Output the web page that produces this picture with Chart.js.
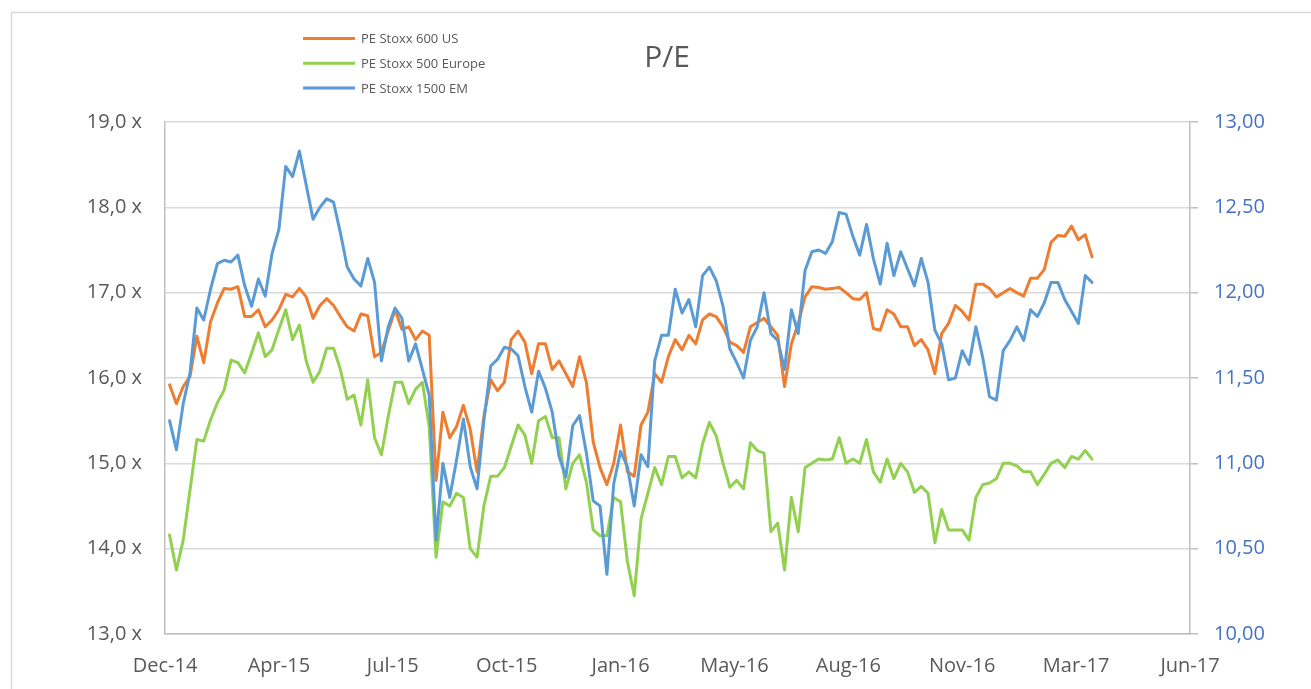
<!DOCTYPE html>
<html>
<head>
<meta charset="utf-8">
<script src="https://cdn.jsdelivr.net/npm/chart.js@4.4.1/dist/chart.umd.min.js"></script>
<style>
  html, body { margin: 0; padding: 0; background: #fff; }
  #wrap { width: 1311px; height: 689px; position: relative; }
</style>
</head>
<body>
<div id="wrap"><canvas id="pe"></canvas></div>
<script>
// -- data (x = days after the Dec-14 axis origin) --
const days = [
    4, 10, 16, 22, 28, 34, 40, 46, 52, 58,
    64, 70, 76, 82, 88, 94, 100, 106, 112, 118,
    124, 130, 136, 142, 148, 154, 160, 166, 172, 178,
    184, 190, 196, 202, 208, 214, 220, 226, 232, 238,
    244, 250, 256, 262, 268, 274, 280, 286, 292, 298,
    304, 310, 316, 322, 328, 334, 340, 346, 352, 358,
    364, 370, 376, 382, 388, 394, 400, 406, 412, 418,
    424, 430, 436, 442, 448, 454, 460, 466, 472, 478,
    484, 490, 496, 502, 508, 514, 520, 526, 532, 538,
    544, 550, 556, 562, 568, 574, 580, 586, 592, 598,
    604, 610, 616, 622, 628, 634, 640, 646, 652, 658,
    664, 670, 676, 682, 688, 694, 700, 706, 712, 718,
    724, 730, 736, 742, 748, 754, 760, 766, 772, 778,
    784, 790, 796, 802, 808, 814
];

const peUS = [
    15.92, 15.70, 15.90, 16.02, 16.49, 16.18, 16.66, 16.88, 17.05, 17.04,
    17.07, 16.72, 16.72, 16.80, 16.60, 16.68, 16.80, 16.98, 16.95, 17.05,
    16.95, 16.70, 16.85, 16.93, 16.85, 16.72, 16.60, 16.55, 16.75, 16.73,
    16.25, 16.30, 16.55, 16.80, 16.57, 16.60, 16.45, 16.55, 16.50, 14.80,
    15.60, 15.30, 15.43, 15.68, 15.40, 14.90, 15.55, 15.98, 15.85, 15.95,
    16.45, 16.55, 16.42, 16.05, 16.40, 16.40, 16.10, 16.20, 16.05, 15.90,
    16.25, 15.95, 15.25, 14.95, 14.75, 15.00, 15.45, 14.90, 14.85, 15.45,
    15.60, 16.05, 15.95, 16.25, 16.45, 16.33, 16.50, 16.40, 16.68, 16.75,
    16.72, 16.60, 16.42, 16.38, 16.30, 16.60, 16.65, 16.70, 16.60, 16.50,
    15.90, 16.40, 16.64, 16.95, 17.07, 17.06, 17.04, 17.05, 17.06, 17.00,
    16.93, 16.92, 17.00, 16.58, 16.56, 16.80, 16.75, 16.60, 16.60, 16.38,
    16.45, 16.33, 16.05, 16.52, 16.64, 16.85, 16.78, 16.68, 17.10, 17.10,
    17.05, 16.95, 17.00, 17.05, 17.00, 16.96, 17.17, 17.17, 17.27, 17.59,
    17.67, 17.66, 17.78, 17.62, 17.68, 17.42
];

const peEurope = [
    14.16, 13.75, 14.10, 14.69, 15.28, 15.26, 15.51, 15.71, 15.86, 16.21,
    16.18, 16.06, 16.29, 16.53, 16.25, 16.33, 16.57, 16.80, 16.45, 16.62,
    16.20, 15.95, 16.08, 16.35, 16.35, 16.10, 15.75, 15.80, 15.45, 15.98,
    15.30, 15.10, 15.55, 15.95, 15.95, 15.70, 15.87, 15.95, 15.43, 13.90,
    14.55, 14.50, 14.65, 14.60, 14.00, 13.90, 14.50, 14.85, 14.85, 14.95,
    15.20, 15.45, 15.33, 15.00, 15.50, 15.55, 15.30, 15.30, 14.70, 15.00,
    15.10, 14.78, 14.22, 14.15, 14.15, 14.60, 14.55, 13.85, 13.45, 14.35,
    14.65, 14.95, 14.75, 15.08, 15.08, 14.83, 14.90, 14.83, 15.23, 15.48,
    15.32, 15.00, 14.72, 14.80, 14.70, 15.24, 15.15, 15.12, 14.20, 14.30,
    13.75, 14.60, 14.20, 14.95, 15.00, 15.05, 15.04, 15.05, 15.30, 15.00,
    15.05, 15.00, 15.28, 14.90, 14.78, 15.05, 14.82, 15.00, 14.90, 14.66,
    14.73, 14.65, 14.07, 14.46, 14.22, 14.22, 14.22, 14.10, 14.60, 14.75,
    14.77, 14.82, 15.00, 15.00, 14.97, 14.90, 14.90, 14.75, 14.87, 15.00,
    15.04, 14.95, 15.08, 15.05, 15.15, 15.05
];

const peEM = [
    11.25, 11.08, 11.35, 11.53, 11.91, 11.84, 12.02, 12.17, 12.19, 12.18,
    12.22, 12.04, 11.92, 12.08, 11.98, 12.23, 12.37, 12.74, 12.68, 12.83,
    12.63, 12.43, 12.50, 12.55, 12.53, 12.35, 12.15, 12.08, 12.04, 12.20,
    12.06, 11.60, 11.80, 11.91, 11.85, 11.60, 11.70, 11.55, 11.40, 10.55,
    11.00, 10.80, 11.02, 11.26, 10.98, 10.85, 11.25, 11.57, 11.61, 11.68,
    11.67, 11.63, 11.45, 11.30, 11.54, 11.44, 11.30, 11.04, 10.92, 11.22,
    11.28, 11.06, 10.78, 10.75, 10.35, 10.88, 11.07, 10.98, 10.75, 11.05,
    10.98, 11.60, 11.75, 11.75, 12.02, 11.88, 11.96, 11.80, 12.10, 12.15,
    12.07, 11.92, 11.67, 11.59, 11.50, 11.72, 11.80, 12.00, 11.76, 11.72,
    11.55, 11.90, 11.76, 12.13, 12.24, 12.25, 12.23, 12.30, 12.47, 12.46,
    12.33, 12.22, 12.40, 12.20, 12.05, 12.29, 12.10, 12.24, 12.14, 12.04,
    12.20, 12.06, 11.78, 11.70, 11.49, 11.50, 11.66, 11.58, 11.80, 11.62,
    11.39, 11.37, 11.66, 11.72, 11.80, 11.72, 11.90, 11.86, 11.94, 12.06,
    12.06, 11.96, 11.89, 11.82, 12.10, 12.06
];

const xTickLabels = ['Dec-14', 'Apr-15', 'Jul-15', 'Oct-15', 'Jan-16',
                     'May-16', 'Aug-16', 'Nov-16', 'Mar-17', 'Jun-17'];
const seriesNames = ['PE Stoxx 600 US', 'PE Stoxx 500 Europe', 'PE Stoxx 1500 EM'];
const chartTitle = 'P/E';

const FONT = "'Open Sans', sans-serif";
const GREY_TXT = '#595959';

const toPoints = vals => days.map((d, i) => ({ x: d, y: vals[i] }));
const comma = (v, n) => v.toFixed(n).replace('.', ',');

// title, legend and the outer frame are drawn by hand (Excel style layout)
const decorPlugin = {
    id: 'decor',
    beforeDraw(chart) {
        const c = chart.ctx;
        c.save();
        c.fillStyle = '#fff';
        c.fillRect(0, 0, chart.width, chart.height);
        c.strokeStyle = '#d9d9d9';
        c.lineWidth = 1.5;
        c.beginPath();
        c.moveTo(11.5, chart.height);
        c.lineTo(11.5, 12.5);
        c.lineTo(chart.width, 12.5);
        c.stroke();
        c.restore();
    },
    afterDraw(chart) {
        const c = chart.ctx;
        c.save();
        c.fillStyle = GREY_TXT;
        c.font = '30px ' + FONT;
        c.textAlign = 'center';
        c.textBaseline = 'middle';
        c.fillText(chartTitle, 667, 58);

        c.font = '13px ' + FONT;
        c.textAlign = 'left';
        chart.data.datasets.forEach((ds, i) => {
            const y = 38.5 + i * 24.7;
            c.strokeStyle = ds.borderColor;
            c.lineWidth = 3;
            c.beginPath();
            c.moveTo(303, y);
            c.lineTo(355, y);
            c.stroke();
            c.fillStyle = GREY_TXT;
            c.fillText(ds.label, 361, y + 1);
        });
        c.restore();
    }
};

new Chart(document.getElementById('pe'), {
    type: 'line',
    data: {
        datasets: [
            { label: seriesNames[0], data: toPoints(peUS), yAxisID: 'y',
              borderColor: '#ED7D31', borderWidth: 3, order: 2 },
            { label: seriesNames[1], data: toPoints(peEurope), yAxisID: 'y',
              borderColor: '#92D050', borderWidth: 3, order: 1 },
            { label: seriesNames[2], data: toPoints(peEM), yAxisID: 'y1',
              borderColor: '#5B9BD5', borderWidth: 3, order: 0 }
        ]
    },
    options: {
        responsive: true,
        maintainAspectRatio: false,
        animation: false,
        layout: { padding: { top: 122, left: 0, right: 0, bottom: 0 } },
        elements: {
            point: { radius: 0, hoverRadius: 0 },
            line: { tension: 0, borderJoinStyle: 'round', borderCapStyle: 'round' }
        },
        plugins: { legend: { display: false }, tooltip: { enabled: false } },
        scales: {
            x: {
                type: 'linear', min: 0, max: 900,
                afterFit: s => { s.height = 55; },
                ticks: { stepSize: 100, maxRotation: 0, autoSkip: false, padding: 20,
                         color: GREY_TXT, font: { family: FONT, size: 20 },
                         callback: (v, i) => xTickLabels[i] },
                grid: { drawOnChartArea: false, drawTicks: false },
                border: { color: '#bfbfbf', width: 1.5 }
            },
            y: {
                position: 'left', min: 13, max: 19,
                afterFit: s => { s.width = 165; },
                ticks: { stepSize: 1, padding: 23, color: GREY_TXT,
                         font: { family: FONT, size: 20 },
                         callback: v => comma(v, 1) + ' x' },
                grid: { color: '#d9d9d9', lineWidth: 1.5, drawTicks: false },
                border: { color: '#bfbfbf', width: 1.5 }
            },
            y1: {
                position: 'right', min: 10, max: 13,
                afterFit: s => { s.width = 121; },
                ticks: { stepSize: 0.5, padding: 16, color: '#4472C4',
                         font: { family: FONT, size: 20 },
                         callback: v => comma(v, 2) },
                grid: { drawOnChartArea: false, drawTicks: true, tickLength: 8,
                        tickColor: '#bfbfbf', lineWidth: 1.5 },
                border: { color: '#bfbfbf', width: 1.5 }
            }
        }
    },
    plugins: [decorPlugin]
});
</script>
</body>
</html>
